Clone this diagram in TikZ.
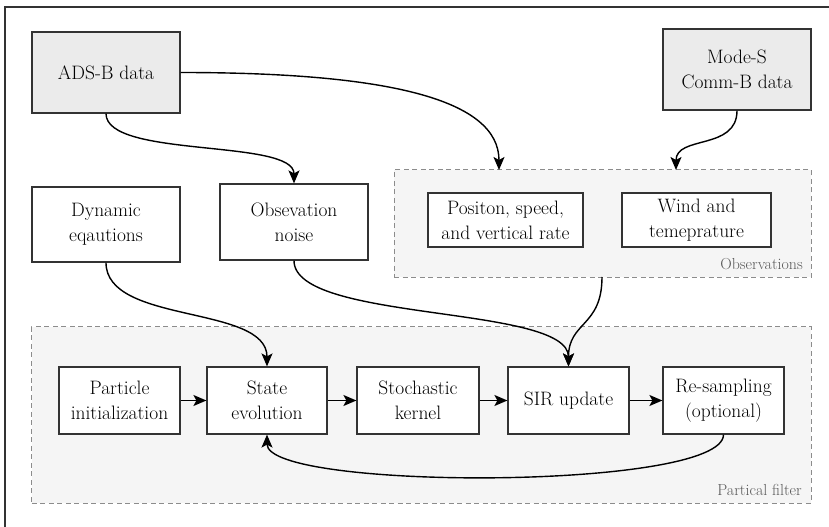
\documentclass[tikz,border=0pt]{standalone}
\usetikzlibrary{arrows.meta}

\begin{document}
\begin{tikzpicture}[x=1bp, y=-1bp,
    box/.style={draw=black!80, line width=1.2bp, fill=white, inner sep=0pt, align=center,
      font=\fontsize{19.5}{25}\selectfont, minimum height=67bp},
    source/.style={box, fill=black!8, minimum width=148bp, minimum height=81bp},
    region/.style={draw=black!45, dashed, dash pattern=on 5bp off 3.5bp, fill=black!4, line width=1bp, inner sep=0pt},
    regionlabel/.style={text=black!65, font=\fontsize{16}{20}\selectfont, anchor=base east, inner sep=0pt},
    flow/.style={line width=1.4bp, -{Stealth[length=13bp, width=11bp, inset=3bp]}}]
  \clip (0,0) rectangle (829,527);
  \draw[line width=1.5bp, draw=black!80] (5,7) rectangle (845,545);

  \node[region, minimum width=417bp, minimum height=107bp] (obs) at (602.5,223.5) {};
  \node[region, minimum width=779bp, minimum height=176bp] (pf) at (421.5,415) {};
  \node[regionlabel] (obslabel) at (803,270) {Observations};
  \node[regionlabel] (pflabel) at (802,495) {Partical filter};

  \node[source] (adsb) at (106,72.5) {ADS-B data};
  \node[source] (modes) at (737,69.5) {Mode-S\\Comm-B data};
  \node[box, minimum width=148bp, minimum height=75bp] (dyn) at (106,224.5) {Dynamic\\eqautions};
  \node[box, minimum width=148bp, minimum height=76bp] (noise) at (294,222) {Obsevation\\noise};
  \node[box, minimum width=155bp, minimum height=54bp] (pos) at (505.5,220) {Positon, speed,\\and vertical rate};
  \node[box, minimum width=149bp, minimum height=54bp] (wind) at (696.5,220) {Wind and\\temeprature};

  \node[box, minimum width=121bp] (init) at (119.5,400.5) {Particle\\initialization};
  \node[box, minimum width=120bp] (state) at (267,400.5) {State\\evolution};
  \node[box, minimum width=122bp] (kernel) at (418,400.5) {Stochastic\\kernel};
  \node[box, minimum width=121bp] (sir) at (568.5,400.5) {SIR update};
  \node[box, minimum width=121bp] (resample) at (723.5,400.5) {Re-sampling\\(optional)};

  \coordinate (obsin1) at (499,170);
  \coordinate (obsin2) at (676,170);
  \coordinate (obsout) at (602,277);

  \draw[flow] (adsb.south) .. controls +(0,45) and +(0,-45) .. (noise.north);
  \draw[flow] (adsb.east) .. controls +(210,0) and +(0,-70) .. (obsin1);
  \draw[flow] (modes.south) .. controls +(0,40) and +(0,-35) .. (obsin2);
  \draw[flow] (dyn.south) .. controls +(0,62) and +(0,-62) .. (state.north);
  \draw[flow] (noise.south) .. controls +(0,62) and +(0,-62) .. (sir.north);
  \draw[flow] (obsout) .. controls +(0,50) and +(0,-45) .. (sir.north);

  \draw[flow] (init) -- (state);
  \draw[flow] (state) -- (kernel);
  \draw[flow] (kernel) -- (sir);
  \draw[flow] (sir) -- (resample);
  \draw[flow] (resample.south) .. controls +(0,56) and +(0,56) .. (state.south);
\end{tikzpicture}
\end{document}
